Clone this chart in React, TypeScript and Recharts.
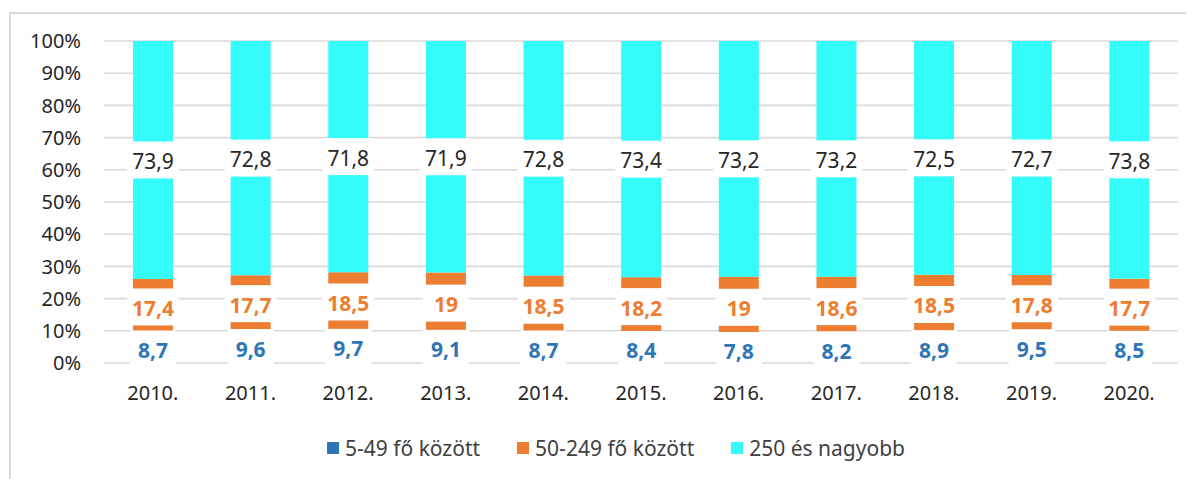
import { Bar, BarChart, CartesianGrid, LabelList, Legend, XAxis, YAxis } from "recharts"

const years = ["2010.", "2011.", "2012.", "2013.", "2014.", "2015.", "2016.", "2017.", "2018.", "2019.", "2020."]
const small = [8.7, 9.6, 9.7, 9.1, 8.7, 8.4, 7.8, 8.2, 8.9, 9.5, 8.5]
const medium = [17.4, 17.7, 18.5, 19, 18.5, 18.2, 19, 18.6, 18.5, 17.8, 17.7]
const large = [73.9, 72.8, 71.8, 71.9, 72.8, 73.4, 73.2, 73.2, 72.5, 72.7, 73.8]
const yTicks = [0, 0.1, 0.2, 0.3, 0.4, 0.5, 0.6, 0.7, 0.8, 0.9, 1]

const seriesNames = ["5-49 fő között", "50-249 fő között", "250 és nagyobb"]
const colors = ["#2E75B6", "#ED7D31", "#33FCFA"]

const FONT = "'Noto Sans', 'Open Sans', sans-serif"
const LABEL_SIZE = 21

const data = years.map((year, i) => ({
  year,
  small: small[i],
  medium: medium[i],
  large: large[i],
}))

const fmt = (v: number) => String(v).replace(".", ",")

// rough width of digit/comma strings in Noto Sans
const textWidth = (s: string) =>
  s.split("").reduce((w, ch) => w + (ch === "," ? 0.27 : 0.572) * LABEL_SIZE, 0)

// label with a white box behind it, like excel's filled data labels
const makeLabel = (color: string, bold: boolean) => (props: any) => {
  const { x, y, width, height, value } = props
  const text = fmt(Number(value))
  const cx = Number(x) + Number(width) / 2
  const cy = Number(y) + Number(height) / 2
  const w = Math.max(textWidth(text) + 10, 46)
  return (
    <g>
      <rect x={cx - w / 2} y={cy - 18.5} width={w} height={37} fill="#ffffff" stroke="none" />
      <text
        x={cx}
        y={cy + 1}
        textAnchor="middle"
        dominantBaseline="central"
        fill={color}
        stroke="none"
        fontWeight={bold ? 700 : 400}
        fontSize={LABEL_SIZE}
        fontFamily={FONT}
      >
        {text}
      </text>
    </g>
  )
}

const renderLegend = () => (
  <div style={{ display: "flex", alignItems: "center", fontFamily: FONT, fontSize: 21, color: "#404040" }}>
    {seriesNames.map((name, i) => (
      <div key={name} style={{ display: "flex", alignItems: "center", marginRight: 37 }}>
        <span style={{ width: 12, height: 12, background: colors[i], display: "inline-block", marginRight: 6 }} />
        <span>{name}</span>
      </div>
    ))}
  </div>
)

export default function App() {
  return (
    <div style={{ position: "relative", width: 1186, height: 471, overflow: "hidden", fontFamily: FONT }}>
      <div
        style={{
          position: "absolute",
          left: 1,
          top: 4,
          width: 1400,
          height: 700,
          border: "2px solid #d9d9d9",
        }}
      />
      <div style={{ position: "absolute", left: 0, top: 0 }}>
        <BarChart
          width={1186}
          height={471}
          data={data}
          stackOffset="expand"
          margin={{ top: 33, right: 16, left: 0, bottom: 86 }}
          barSize={40}
        >
          <CartesianGrid vertical={false} stroke="#d9d9d9" strokeWidth={1.6} />
          <XAxis
            dataKey="year"
            height={30}
            axisLine={false}
            tickLine={false}
            tickMargin={17}
            tick={{ fill: "#262626", fontSize: 20, fontFamily: FONT }}
            interval={0}
          />
          <YAxis
            width={96}
            domain={[0, 1]}
            ticks={yTicks}
            axisLine={false}
            tickLine={false}
            tickMargin={17}
            tick={{ fill: "#262626", fontSize: 20, fontFamily: FONT }}
            tickFormatter={(v: number) => `${Math.round(v * 100)}%`}
          />
          <Legend
            layout="horizontal"
            verticalAlign="middle"
            align="center"
            content={renderLegend}
            wrapperStyle={{ top: 426, left: 319, width: 860 }}
          />
          <Bar dataKey="small" name={seriesNames[0]} stackId="a" fill={colors[0]} isAnimationActive={false}>
            <LabelList dataKey="small" content={makeLabel("#2E75B6", true)} />
          </Bar>
          <Bar dataKey="medium" name={seriesNames[1]} stackId="a" fill={colors[1]} isAnimationActive={false}>
            <LabelList dataKey="medium" content={makeLabel("#ED7D31", true)} />
          </Bar>
          <Bar dataKey="large" name={seriesNames[2]} stackId="a" fill={colors[2]} isAnimationActive={false}>
            <LabelList dataKey="large" content={makeLabel("#262626", false)} />
          </Bar>
        </BarChart>
      </div>
    </div>
  )
}
